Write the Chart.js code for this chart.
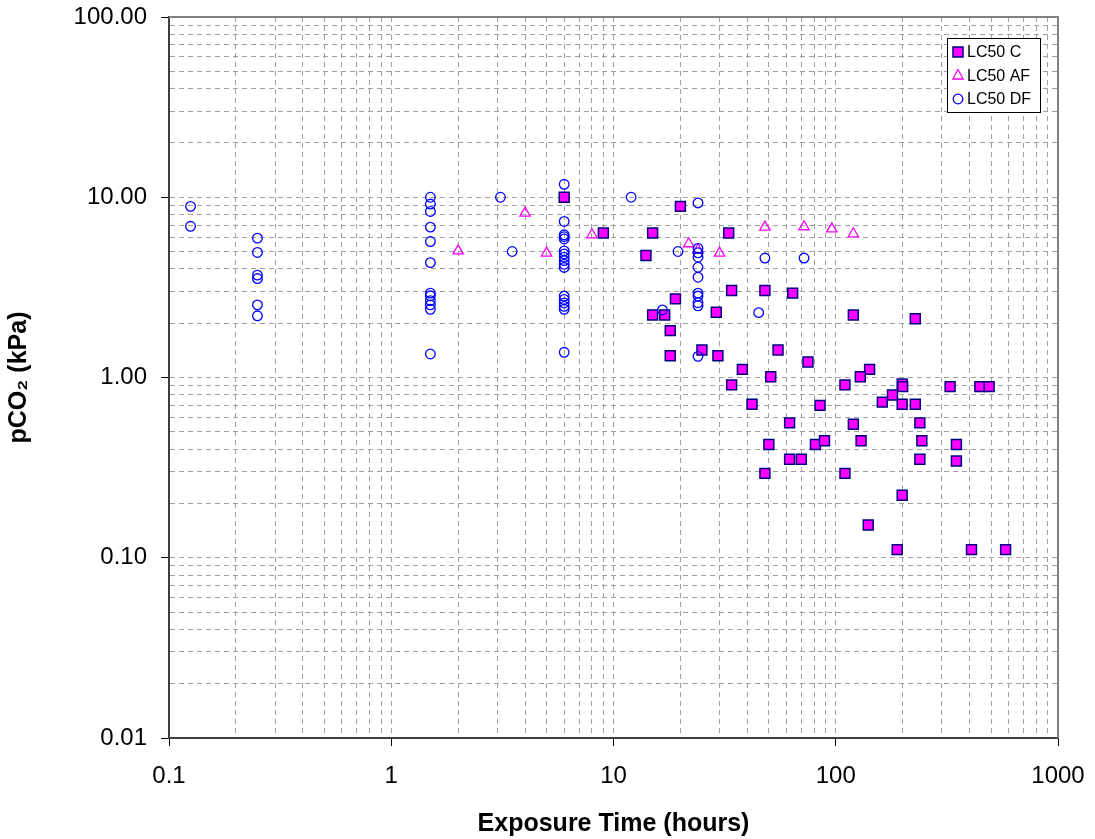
<!DOCTYPE html>
<html>
<head>
<meta charset="utf-8">
<title>LC50 pCO2 vs exposure time</title>
<script src="https://cdn.jsdelivr.net/npm/chart.js@4/dist/chart.umd.min.js"></script>
<style>
	html, body { margin: 0; padding: 0; background: #fff; }
</style>
</head>
<body>
<canvas id="scatter-chart" width="1095" height="839"></canvas>
<script>
// LC50 C (squares)
var cTime = [6, 9, 20, 15, 33, 14, 19, 34, 48, 64, 15, 17, 29, 120, 228, 18, 25, 18, 29.5, 55,
	75, 38, 51, 142, 129, 34, 110, 199, 200, 327, 445, 490, 180, 162, 199, 228, 42, 85, 62, 120,
	239, 50, 81, 89, 130, 244, 349, 62, 70, 239, 349, 48, 110, 199, 140, 189, 408, 581];
var cCO2 = [10, 6.33, 8.9, 6.33, 6.33, 4.75, 2.73, 3.04, 3.04, 2.94, 2.22, 2.22, 2.3, 2.22, 2.12, 1.82, 1.42, 1.32, 1.32, 1.42,
	1.22, 1.11, 1.01, 1.11, 1.01, 0.91, 0.91, 0.92, 0.89, 0.89, 0.89, 0.89, 0.80, 0.73, 0.71, 0.71, 0.71, 0.70, 0.56, 0.55,
	0.56, 0.425, 0.425, 0.446, 0.446, 0.446, 0.425, 0.352, 0.352, 0.352, 0.344, 0.294, 0.294, 0.222, 0.152, 0.111, 0.111, 0.111];

// LC50 AF (triangles)
var afTime = [2, 4, 5, 8, 21.8, 24, 30, 48, 72, 96, 120];
var afCO2 = [5.04, 8.17, 4.9, 6.19, 5.52, 5.1, 4.9, 6.83, 6.86, 6.68, 6.27];

// LC50 DF (circles)
var dfTime = [0.125, 0.125,
	0.25, 0.25, 0.25, 0.25, 0.25, 0.25,
	1.5, 1.5, 1.5, 1.5, 1.5, 1.5, 1.5, 1.5, 1.5, 1.5, 1.5, 1.5,
	3.1, 3.5,
	6, 6, 6, 6, 6, 6, 6, 6, 6, 6, 6, 6, 6, 6, 6, 6, 6,
	12, 19.5,
	24, 24, 24, 24, 24, 24, 24, 24, 24, 24, 24,
	16.6, 45, 48, 72];
var dfCO2 = [8.9, 6.9,
	5.93, 4.94, 3.70, 3.54, 2.53, 2.20,
	10, 9.17, 8.34, 6.83, 5.68, 4.34, 2.94, 2.84, 2.67, 2.53, 2.39, 1.35,
	10, 5,
	11.8, 7.34, 6.19, 6.05, 5.87, 5.04, 4.85, 4.65, 4.45, 4.25, 4.08, 2.83, 2.71, 2.59, 2.48, 2.39, 1.38,
	10, 5.0,
	9.3, 5.2, 4.92, 4.65, 4.09, 3.60, 2.94, 2.83, 2.6, 2.5, 1.31,
	2.37, 2.29, 4.6, 4.6];

var xMin = 0.1, xMax = 1000;
var yMin = 0.01, yMax = 100;

var seriesNames = ['LC50 C', 'LC50 AF', 'LC50 DF'];

function toPoints(xs, ys){
	return xs.map(function(x, i){ return {x: x, y: ys[i]}; });
}

// 1..9 x 10^n gridlines for a log axis
function logTicks(min, max){
	var t = [];
	for (var e = Math.round(Math.log10(min)); e < Math.round(Math.log10(max)); e++) {
		for (var m = 1; m < 10; m++) t.push(Number((m * Math.pow(10, e)).toPrecision(6)));
	}
	t.push(max);
	return t;
}

function isDecade(v){
	var l = Math.log10(v);
	return Math.abs(l - Math.round(l)) < 1e-9;
}

var FONT = '"Liberation Sans", Arial, sans-serif';

var frameAndLegend = {
	id: 'frameAndLegend',
	afterDraw: function(chart){
		var ctx = chart.ctx, a = chart.chartArea;
		ctx.save();
		// top and right frame
		ctx.strokeStyle = '#808080';
		ctx.lineWidth = 2;
		ctx.setLineDash([]);
		ctx.beginPath();
		ctx.moveTo(a.left, a.top);
		ctx.lineTo(a.right, a.top);
		ctx.lineTo(a.right, a.bottom);
		ctx.stroke();

		// legend box
		var bx = 947.5, by = 38.5, bw = 93, bh = 74;
		ctx.fillStyle = '#fff';
		ctx.fillRect(bx, by, bw, bh);
		ctx.strokeStyle = '#000';
		ctx.lineWidth = 1;
		ctx.strokeRect(bx, by, bw, bh);

		ctx.font = '16px ' + FONT;
		ctx.textBaseline = 'middle';
		ctx.textAlign = 'left';
		var rows = [52, 75.5, 99];
		chart.data.datasets.forEach(function(ds, i){
			var cx = 958, cy = rows[i];
			ctx.beginPath();
			if (ds.pointStyle === 'rect') {
				ctx.rect(cx - 5, cy - 5, 10, 10);
				ctx.fillStyle = ds.backgroundColor;
				ctx.fill();
			} else if (ds.pointStyle === 'triangle') {
				ctx.moveTo(cx, cy - 6);
				ctx.lineTo(cx + 5.2, cy + 3.5);
				ctx.lineTo(cx - 5.2, cy + 3.5);
				ctx.closePath();
			} else {
				ctx.arc(cx, cy, 4.8, 0, Math.PI * 2);
			}
			ctx.strokeStyle = ds.borderColor;
			ctx.lineWidth = ds.borderWidth;
			ctx.stroke();
			ctx.fillStyle = '#000';
			ctx.fillText(ds.label, 967, cy + 1);
		});
		ctx.restore();
	}
};

new Chart(document.getElementById('scatter-chart'), {
	type: 'scatter',
	data: {
		datasets: [
			{
				label: seriesNames[0],
				data: toPoints(cTime, cCO2),
				pointStyle: 'rect',
				pointRadius: 7,
				backgroundColor: '#FF00FF',
				borderColor: '#000080',
				borderWidth: 1.5,
				order: 2
			},
			{
				label: seriesNames[1],
				data: toPoints(afTime, afCO2),
				pointStyle: 'triangle',
				pointRadius: 6,
				backgroundColor: 'rgba(0,0,0,0)',
				borderColor: '#FF00FF',
				borderWidth: 1.3,
				order: 1
			},
			{
				label: seriesNames[2],
				data: toPoints(dfTime, dfCO2),
				pointStyle: 'circle',
				pointRadius: 4.8,
				backgroundColor: 'rgba(0,0,0,0)',
				borderColor: '#0000FF',
				borderWidth: 1.3,
				order: 0
			}
		]
	},
	options: {
		responsive: false,
		animation: false,
		layout: { padding: { top: 17, right: 37, left: 0, bottom: 0 } },
		plugins: {
			legend: { display: false },
			tooltip: { enabled: false }
		},
		scales: {
			x: {
				type: 'logarithmic',
				min: xMin,
				max: xMax,
				afterBuildTicks: function(axis){
					axis.ticks = logTicks(xMin, xMax).map(function(v){ return {value: v, major: isDecade(v)}; });
				},
				afterFit: function(axis){
					axis.height = 101;
					axis.paddingLeft = 0;
					axis.paddingRight = 0;
				},
				grid: {
					color: '#a0a0a0',
					lineWidth: 1,
					tickLength: 8,
					tickColor: function(c){ return c.tick && isDecade(c.tick.value) ? '#000' : 'rgba(0,0,0,0)'; }
				},
				border: { color: '#404040', width: 2, dash: [5, 4] },
				ticks: {
					autoSkip: false,
					maxRotation: 0,
					padding: 16,
					color: '#000',
					font: { family: FONT, size: 24 },
					callback: function(v){ return isDecade(v) ? String(Number(v.toPrecision(6))) : ''; }
				},
				title: {
					display: true,
					text: 'Exposure Time (hours)',
					color: '#000',
					font: { family: FONT, size: 25, weight: 'bold' },
					padding: { top: 0, bottom: 0 }
				}
			},
			y: {
				type: 'logarithmic',
				min: yMin,
				max: yMax,
				afterBuildTicks: function(axis){
					axis.ticks = logTicks(yMin, yMax).map(function(v){ return {value: v, major: isDecade(v)}; });
				},
				afterFit: function(axis){
					axis.width = 169;
					axis.paddingTop = 0;
					axis.paddingBottom = 0;
				},
				grid: {
					color: '#a0a0a0',
					lineWidth: 1,
					tickLength: 8,
					tickColor: function(c){ return c.tick && isDecade(c.tick.value) ? '#000' : 'rgba(0,0,0,0)'; }
				},
				border: { color: '#404040', width: 2, dash: [5, 4] },
				ticks: {
					autoSkip: false,
					padding: 14,
					color: '#000',
					font: { family: FONT, size: 24 },
					callback: function(v){ return isDecade(v) ? v.toFixed(2) : ''; }
				},
				title: {
					display: true,
					text: 'pCO₂ (kPa)',
					color: '#000',
					font: { family: FONT, size: 25, weight: 'bold' },
					padding: { top: 4, bottom: 0 }
				}
			}
		}
	},
	plugins: [frameAndLegend]
});
</script>
</body>
</html>
